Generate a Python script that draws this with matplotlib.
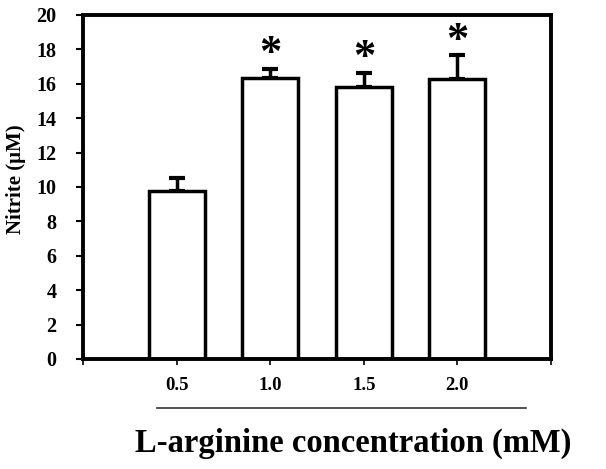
import matplotlib
matplotlib.use("Agg")
import matplotlib.pyplot as plt

concentrations = ["0.5", "1.0", "1.5", "2.0"]
nitrite = [9.75, 16.35, 15.8, 16.25]
sem = [0.8, 0.5, 0.85, 1.4]
significant = [False, True, True, True]

plt.rcParams['font.family'] = ['Liberation Serif', 'DejaVu Serif']
plt.rcParams['font.weight'] = 'bold'

fig = plt.figure(figsize=(6.06, 4.69), dpi=100)
ax = fig.add_axes([83/606, 1-359/469, (551-83)/606, (359-15)/469])

xpos = list(range(1, len(concentrations)+1))
ax.bar(xpos, nitrite, width=0.6, color='white', edgecolor='black', linewidth=2.5, zorder=2)
ax.errorbar(xpos, nitrite, yerr=[[0]*len(sem), sem], fmt='none', ecolor='black',
            elinewidth=2.5, capsize=6, capthick=3, zorder=1)
for x, v, e, s in zip(xpos, nitrite, sem, significant):
    if s:
        ax.text(x, v + e - 0.3, '*', ha='center', va='bottom', fontsize=32, fontweight='bold')

ax.set_xlim(0, 5)
ax.set_ylim(0, 20)
ax.set_yticks(range(0, 21, 2))
ax.set_xticks(range(0, 6))
ax.set_xticklabels([''] + concentrations + [''])
for sp in ax.spines.values():
    sp.set_linewidth(2.8)
ax.tick_params(axis='y', direction='out', length=5, width=1.5, labelsize=14.5, pad=14)
ax.tick_params(axis='x', direction='out', length=4, width=1.2, labelsize=13.5, pad=9)
ax.set_ylabel('Nitrite (μM)', fontsize=15, fontweight='bold')
ax.yaxis.set_label_coords(-0.122, 0.523)

fig.add_artist(plt.Line2D([157/606, 526/606], [1-408/469, 1-408/469], color='#333333', linewidth=1.2))
fig.text(353/606, 1-443/469, 'L-arginine concentration (mM)', ha='center', va='center',
         fontsize=23.5, fontweight='bold')

fig.savefig('out.png', dpi=100)
